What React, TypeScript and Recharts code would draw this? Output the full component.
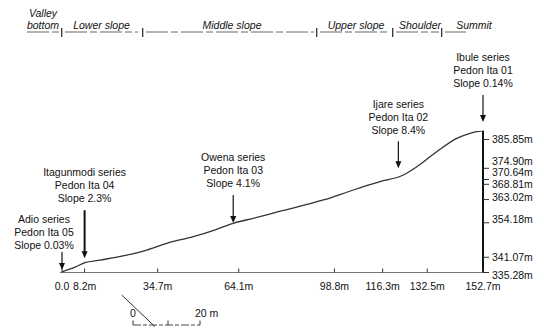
import React from 'react';
import { LineChart, Line, XAxis, YAxis, ReferenceDot } from 'recharts';

// ---- data ----
const distances = [0, 4.7, 8.3, 13.8, 23.5, 30.7, 38.0, 47.6, 56.1, 62.1, 69.4, 78.5, 94.8, 105.7, 115.3, 123.8, 128.7, 135.9, 143.2, 148.0, 152.7];
const elevations = [335.5, 337.3, 339.0, 340.0, 341.9, 343.8, 346.4, 348.9, 351.7, 354.0, 355.9, 358.4, 362.85, 366.65, 369.8, 372.35, 375.5, 381.2, 386.3, 388.2, 389.2];

const xTicks = [0, 8.2, 34.7, 64.1, 98.8, 116.3, 132.5, 152.7];
const xTickLabels = ['0.0', '8.2m', '34.7m', '64.1m', '98.8m', '116.3m', '132.5m', '152.7m'];
const yTicks = [335.28, 341.07, 354.18, 363.02, 368.81, 370.64, 374.9, 385.85];
const yTickLabels = ['335.28m', '341.07m', '354.18m', '363.02m', '368.81m', '370.64m', '374.90m', '385.85m'];

const seriesNames = ['Adio series', 'Itagunmodi series', 'Owena series', 'Ijare series', 'Ibule series'];
const pedonNames = ['Pedon Ita 05', 'Pedon Ita 04', 'Pedon Ita 03', 'Pedon Ita 02', 'Pedon Ita 01'];
const slopeLabels = ['Slope 0.03%', 'Slope 2.3%', 'Slope 4.1%', 'Slope 8.4%', 'Slope 0.14%'];
const pedonDistances = [0, 8.2, 62.1, 122.0, 152.7];
const pedonElevations = [336.2, 340.7, 354.1, 374.9, 392.5];

const zoneNames = ['Valley bottom', 'Lower slope', 'Middle slope', 'Upper slope', 'Shoulder', 'Summit'];
const scaleBarLabels = ['0', '20 m'];

// ---- layout / style ----
const FONT = '"Liberation Sans", Arial, Helvetica, sans-serif';
const FS = 10.5;
const arrowLen = [18, 48, 28, 27, 27];
const textGap = [7, 12, 12, 11, 12];
const textDx = [-18, 0, 0, 0, 0];
const arrowW = [1.2, 2, 1.2, 1.2, 1.2];
const yLabelNudge: Record<string, number> = {
  '374.9': -7.5, '370.64': -7, '368.81': 0, '363.02': -2, '354.18': -4, '335.28': 2.5,
};
const zoneTextX = [43, 101.5, 232, 356, 420, 474];
const zoneSeparators = [61.7, 142.7, 316.7, 392.7, 441.7];
const zoneUnderlines = [[27, 59], [65, 138], [146, 314], [320, 390], [396, 439], [445, 466]];

const XTick = (props: any) => {
  const { x, y, payload } = props;
  const idx = xTicks.indexOf(payload.value);
  const axisY = y - 10;
  return (
    <g>
      <line x1={x} x2={x} y1={axisY} y2={axisY - 4} stroke="#333" strokeWidth={1} />
      <text x={x} y={y} dy="0.71em" textAnchor="middle" fontSize={FS} fontFamily={FONT} fill="#111">
        {xTickLabels[idx]}
      </text>
    </g>
  );
};

const YTick = (props: any) => {
  const { x, y, payload } = props;
  const idx = yTicks.indexOf(payload.value);
  const nudge = yLabelNudge[String(payload.value)] || 0;
  return (
    <text x={x} y={y + nudge} dy="0.355em" textAnchor="start" fontSize={FS} fontFamily={FONT} fill="#111">
      {yTickLabels[idx]}
    </text>
  );
};

const Annotation = (props: any) => {
  const { cx, cy, i } = props;
  if (cx == null || cy == null) return null;
  const top = cy - arrowLen[i];
  const lastBase = top - textGap[i] + 4;
  const tx = cx + textDx[i];
  const lines = [seriesNames[i], pedonNames[i], slopeLabels[i]];
  return (
    <g>
      <line x1={cx} x2={cx} y1={top} y2={cy - 6} stroke="#111" strokeWidth={arrowW[i]} />
      <polygon points={`${cx - 3},${cy - 7} ${cx + 3},${cy - 7} ${cx},${cy}`} fill="#111" />
      <text textAnchor="middle" fontSize={FS} fontFamily={FONT} fill="#111">
        {lines.map((l, k) => (
          <tspan key={k} x={tx} y={lastBase - (2 - k) * 13}>{l}</tspan>
        ))}
      </text>
    </g>
  );
};

export default function App() {
  const data = distances.map((d, i) => ({ d, e: elevations[i] }));
  return (
    <div style={{ position: 'absolute', left: 0, top: 0, width: 544, height: 330, background: '#fff', fontFamily: FONT }}>
      <LineChart width={544} height={330} data={data} margin={{ top: 130.7, right: 0, bottom: 32.5, left: 59.8 }}>
        <XAxis
          dataKey="d"
          type="number"
          domain={[-0.8, 152.7]}
          allowDataOverflow
          ticks={xTicks}
          interval={0}
          height={25}
          tickSize={0}
          tickMargin={10}
          tickLine={false}
          axisLine={{ stroke: '#777', strokeWidth: 1.2 }}
          tick={<XTick />}
        />
        <YAxis
          type="number"
          orientation="right"
          domain={[335.28, 389.2]}
          allowDataOverflow
          ticks={yTicks}
          interval={0}
          width={61}
          tickSize={6}
          tickMargin={3}
          tickLine={{ stroke: '#333' }}
          axisLine={{ stroke: '#111', strokeWidth: 2 }}
          tick={<YTick />}
        />
        <Line dataKey="e" type="monotone" stroke="#333" strokeWidth={1.3} dot={false} isAnimationActive={false} />
        {pedonDistances.map((x, i) => (
          <ReferenceDot
            key={i}
            x={x}
            y={pedonElevations[i]}
            ifOverflow="visible"
            shape={(p: any) => <Annotation {...p} i={i} />}
          />
        ))}
      </LineChart>
      <svg width={544} height={330} style={{ position: 'absolute', left: 0, top: 0, pointerEvents: 'none' }}>
        <g fontFamily={FONT} fontSize={10.5} fontStyle="italic" fill="#111">
          <text x={zoneTextX[0]} y={17} textAnchor="middle">{zoneNames[0].split(' ')[0]}</text>
          <text x={zoneTextX[0]} y={28.5} textAnchor="middle">{zoneNames[0].split(' ')[1]}</text>
          {zoneNames.slice(1).map((z, k) => (
            <text key={z} x={zoneTextX[k + 1]} y={28.5} textAnchor="middle">{z}</text>
          ))}
        </g>
        {zoneUnderlines.map(([a, b], k) => (
          <line key={k} x1={a} x2={b} y1={32} y2={32} stroke="#555" strokeWidth={0.9} strokeDasharray="22 3 7 3" />
        ))}
        {zoneSeparators.map((sx, k) => (
          <line key={k} x1={sx} x2={sx} y1={28} y2={37} stroke="#222" strokeWidth={1.2} />
        ))}
        <line x1={121.7} y1={295} x2={155} y2={326.7} stroke="#333" strokeWidth={1} />
        <text x={133} y={317} textAnchor="middle" fontFamily={FONT} fontSize={FS} fill="#111">{scaleBarLabels[0]}</text>
        <text x={195} y={317} textAnchor="start" fontFamily={FONT} fontSize={FS} fill="#111">{scaleBarLabels[1]}</text>
        <line x1={133} x2={200} y1={325} y2={325} stroke="#444" strokeWidth={1} strokeDasharray="8 2 4 2" />
        {[133, 168, 200].map((tx) => (
          <line key={tx} x1={tx} x2={tx} y1={320.5} y2={325} stroke="#333" strokeWidth={1} />
        ))}
      </svg>
    </div>
  );
}
